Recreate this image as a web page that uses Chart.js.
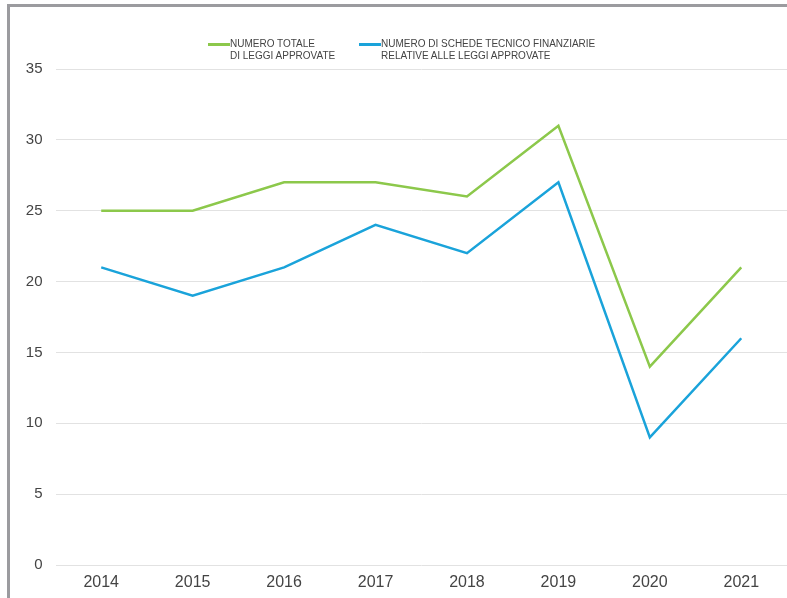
<!DOCTYPE html>
<html lang="it">
<head>
    <meta charset="UTF-8">
    <title>Leggi approvate e schede tecnico finanziarie</title>
    <script src="https://cdn.jsdelivr.net/npm/chart.js"></script>
    <style>
        body { margin: 0; background: #fff; font-family: 'Liberation Sans', sans-serif; }
        .frame {
            position: absolute; left: 7px; top: 4px; width: 777px; height: 591px;
            border-top: 3px solid #9b9b9f; border-left: 3px solid #9b9b9f;
        }
        .legend { position: absolute; top: 38px; font-size: 10px; line-height: 12px; color: #444; }
        .legend .swatch { position: absolute; left: -22px; top: 5px; width: 22px; height: 2.5px; }
    </style>
</head>
<body>
    <div class="frame">
        <canvas id="chart" width="777" height="591"></canvas>
    </div>
    <div class="legend" style="left: 230px;">
        <span class="swatch" style="background:#8cc84b"></span>NUMERO TOTALE<br>DI LEGGI APPROVATE
    </div>
    <div class="legend" style="left: 381px;">
        <span class="swatch" style="background:#1aa3da"></span>NUMERO DI SCHEDE TECNICO FINANZIARIE<br>RELATIVE ALLE LEGGI APPROVATE
    </div>

    <script>
        const years = ['2014', '2015', '2016', '2017', '2018', '2019', '2020', '2021'];
        const leggiApprovate = [25, 25, 27, 27, 26, 31, 14, 21];
        const schedeTecniche = [21, 19, 21, 24, 22, 27, 9, 16];

        new Chart(document.getElementById('chart'), {
            type: 'line',
            data: {
                labels: years,
                datasets: [{
                    label: 'NUMERO TOTALE DI LEGGI APPROVATE',
                    data: leggiApprovate,
                    borderColor: '#8cc84b',
                    borderWidth: 2.5,
                    pointRadius: 0,
                    tension: 0
                }, {
                    label: 'NUMERO DI SCHEDE TECNICO FINANZIARIE RELATIVE ALLE LEGGI APPROVATE',
                    data: schedeTecniche,
                    borderColor: '#1aa3da',
                    borderWidth: 2.5,
                    pointRadius: 0,
                    tension: 0
                }]
            },
            options: {
                responsive: false,
                animation: false,
                layout: { padding: { top: 62, left: 0, right: 0, bottom: 0 } },
                scales: {
                    x: {
                        offset: true,
                        grid: { display: false, drawTicks: false },
                        border: { display: false },
                        ticks: { color: '#444', padding: 8, font: { family: 'Liberation Sans', size: 16 } },
                        afterFit: s => { s.height = 33; }
                    },
                    y: {
                        min: 0,
                        max: 35,
                        ticks: { stepSize: 5, color: '#444', padding: 13, font: { family: 'Liberation Sans', size: 15 } },
                        grid: { color: '#e2e2e2', drawTicks: false },
                        border: { display: false },
                        afterFit: s => { s.width = 45.5; }
                    }
                },
                plugins: {
                    legend: { display: false },
                    tooltip: { enabled: false }
                }
            }
        });
    </script>
</body>
</html>
